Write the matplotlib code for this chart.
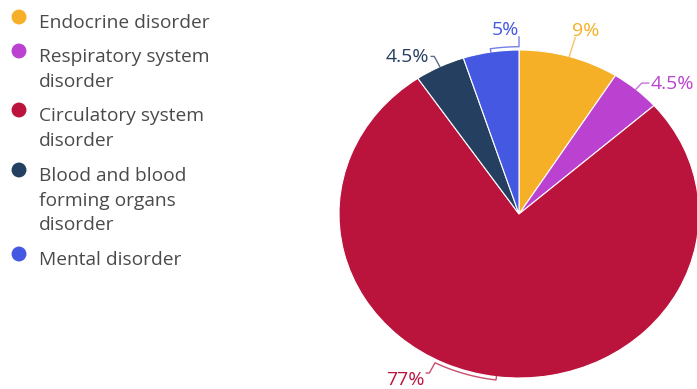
import numpy as np
import matplotlib.pyplot as plt

plt.rcParams['font.family'] = ['Open Sans', 'DejaVu Sans']

categories = ["Endocrine disorder", "Respiratory system\ndisorder",
              "Circulatory system\ndisorder", "Blood and blood\nforming organs\ndisorder",
              "Mental disorder"]
shares = [9, 4.5, 77, 4.5, 5]
pct_labels = ["9%", "4.5%", "77%", "4.5%", "5%"]
colors = ["#F5B027", "#BB41D0", "#BA133C", "#243F5F", "#4458E2"]
# label placement: slide along rim (deg, clockwise) and radius of the tick end
label_shift = [0, 0, 20, 0, 9]
label_reach = [1.12, 1.05, 1.09, 1.07, 1.08]

W, H = 697, 389
cx, cy = 519, 214      # pie centre in pixels
rx, ry = 180, 164      # pie is drawn a bit wider than tall

fig = plt.figure(figsize=(W / 100, H / 100), dpi=100)
ax = fig.add_axes([0, 0, 1, 1])
ax.pie(shares, colors=colors, startangle=90, counterclock=False, radius=1,
       wedgeprops=dict(edgecolor="white", linewidth=0.8))
ax.set_aspect("auto")
ax.set_xlim(-cx / rx, (W - cx) / rx)
ax.set_ylim(-(H - cy) / ry, cy / ry)
ax.axis("off")


def pt(theta, r):
    t = np.radians(theta)
    return r * np.sin(t), r * np.cos(t)


# percentage labels with leader lines
start = 0
for share, lab, col, shift, reach in zip(shares, pct_labels, colors,
                                         label_shift, label_reach):
    mid = start + share / 2 * 3.6
    start += share * 3.6
    end = mid + shift
    th = np.linspace(mid, end, 30)
    xs, ys = pt(th, 1.02)
    x0, y0 = pt(mid, 1.0)
    x1, y1 = pt(end, reach)
    s, c = np.sin(np.radians(end)), np.cos(np.radians(end))
    lx, ly = [x1], [y1]
    if c > 0.9:
        # near the top: label sits above the tick
        va = "bottom"
        ha = "left" if s > 0.05 else "right"
        tx = x1 + (-3 / rx if ha == "left" else 0)
        ty = y1 - 2 / ry
    else:
        va = "center"
        ha = "left" if s > 0 else "right"
        step = 7 / rx if s > 0 else -3 / rx
        lx.append(x1 + step)
        ly.append(y1)
        tx = lx[-1] + np.sign(step) * 2 / rx
        ty = y1 - (7 / ry if c < 0 else 1 / ry)
    ax.plot(np.r_[x0, xs, lx], np.r_[y0, ys, ly], color=col, lw=1, alpha=0.75,
            clip_on=False)
    ax.text(tx, ty, lab, color=col, fontsize=14, ha=ha, va=va)

# legend, drawn in pixel coordinates
lax = fig.add_axes([0, 0, 1, 1], facecolor="none")
lax.set_xlim(0, W)
lax.set_ylim(H, 0)
lax.axis("off")
marker_y = [17, 51, 110, 170, 254]
for name, col, my in zip(categories, colors, marker_y):
    lax.scatter(19, my, s=115, color=col, edgecolors="none")
    for i, line in enumerate(name.split("\n")):
        lax.text(39, my + 11 + i * 24.5, line, fontsize=13.8, color="#4a4a4a",
                 ha="left", va="baseline")

fig.savefig("out.png", dpi=100)
